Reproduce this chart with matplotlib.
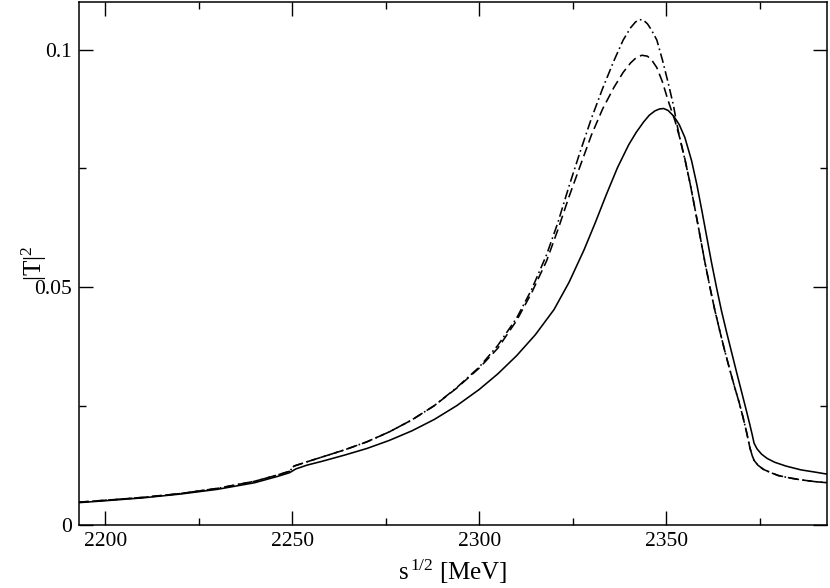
import matplotlib
matplotlib.use("Agg")
import matplotlib.pyplot as plt
from matplotlib.ticker import MultipleLocator

# ---- data ----
solid_x = [2193, 2200, 2210, 2220, 2230, 2240, 2246, 2249.3, 2251, 2254, 2258, 2264, 2270, 2276,
           2282, 2288, 2294, 2300, 2305, 2310, 2315, 2320, 2324, 2328, 2331, 2334, 2337, 2340,
           2342, 2344, 2345.5, 2347, 2348.2, 2349.3, 2350.5, 2352, 2353.5, 2355, 2356.8, 2358.2,
           2359.5, 2360.8, 2362.1, 2363.5, 2364.8, 2366.2, 2367.5, 2368.8, 2370.1, 2371.3,
           2372.4, 2373.0, 2373.5, 2374.3, 2375.5, 2377, 2379, 2382, 2386, 2390, 2393]
solid_y = [0.0047, 0.0051, 0.0057, 0.0065, 0.0075, 0.0089, 0.0102, 0.0110, 0.0118, 0.0126,
           0.0134, 0.0147, 0.0161, 0.0178, 0.0198, 0.0222, 0.0251, 0.0285, 0.0318, 0.0356,
           0.0400, 0.0453, 0.0510, 0.0578, 0.0635, 0.0695, 0.0752, 0.0800, 0.0826, 0.0848,
           0.0862, 0.0871, 0.0875, 0.0876, 0.0872, 0.0860, 0.0842, 0.0815, 0.0766, 0.0716,
           0.0663, 0.0608, 0.0553, 0.0498, 0.0450, 0.0404, 0.0363, 0.0322, 0.0282, 0.0245,
           0.0210, 0.0190, 0.0172, 0.0160, 0.0149, 0.0140, 0.0132, 0.0124, 0.0116, 0.0111,
           0.0107]

dashed_x = [2193, 2200, 2210, 2220, 2230, 2240, 2246, 2249.3, 2250.5, 2254, 2258, 2264, 2270,
            2276, 2282, 2288, 2294, 2300, 2305, 2310, 2314, 2318, 2321, 2324, 2327, 2330, 2333,
            2336, 2338.5, 2340.5, 2342, 2343.5, 2345, 2346.3, 2347.5, 2349, 2350.5, 2352.4,
            2353.7, 2355, 2356.4, 2357.7, 2359, 2360.3, 2361.7, 2363, 2364.4, 2365.7, 2367,
            2368.3, 2369.5, 2370.5, 2371.5, 2372.4, 2373, 2373.5, 2374.5, 2376, 2378, 2380,
            2383, 2386, 2390, 2393]
dashed_y = [0.0048, 0.0052, 0.0058, 0.0066, 0.0077, 0.0092, 0.0105, 0.0113, 0.0124, 0.0133,
            0.0143, 0.0158, 0.0175, 0.0196, 0.0221, 0.0251, 0.0288, 0.0330, 0.0372, 0.0430,
            0.0488, 0.0555, 0.0620, 0.0690, 0.0755, 0.0820, 0.0875, 0.0920, 0.0952, 0.0972,
            0.0983, 0.0988, 0.0986, 0.0976, 0.0962, 0.0932, 0.0893, 0.0849, 0.0812, 0.0770,
            0.0718, 0.0665, 0.0610, 0.0555, 0.0500, 0.0452, 0.0406, 0.0365, 0.0327, 0.0290,
            0.0258, 0.0228, 0.0195, 0.0162, 0.0146, 0.0136, 0.0126, 0.0117, 0.0110, 0.0104,
            0.0099, 0.0095, 0.0091, 0.0089]

dashdot_x = [2193, 2200, 2210, 2220, 2230, 2240, 2246, 2249.3, 2250.5, 2254, 2258, 2264, 2270,
             2276, 2282, 2288, 2294, 2300, 2305, 2310, 2314, 2318, 2321, 2324, 2327, 2330, 2333,
             2336, 2338.5, 2340.5, 2341.8, 2342.8, 2343.9, 2345, 2346, 2347.5, 2349, 2350.5,
             2351.9, 2353.2, 2354.2, 2355.2, 2356.4, 2357.7, 2359, 2360.3, 2361.7, 2363, 2364.4,
             2365.7, 2367, 2368.3, 2369.5, 2370.5, 2371.5, 2372.4, 2373, 2373.5, 2374.5, 2376,
             2378, 2380, 2383, 2386, 2390, 2393]
dashdot_y = [0.0048, 0.0052, 0.0058, 0.0066, 0.0077, 0.0092, 0.0105, 0.0113, 0.0124, 0.0133,
             0.0143, 0.0158, 0.0175, 0.0196, 0.0221, 0.0251, 0.0289, 0.0332, 0.0378, 0.0435,
             0.0495, 0.0568, 0.0635, 0.0712, 0.0785, 0.0855, 0.0918, 0.0976, 0.1020, 0.1046,
             0.1058, 0.1063, 0.1062, 0.1054, 0.1042, 0.1020, 0.0978, 0.0931, 0.0884, 0.0830,
             0.0795, 0.0762, 0.0718, 0.0665, 0.0610, 0.0555, 0.0500, 0.0452, 0.0406, 0.0365,
             0.0327, 0.0290, 0.0258, 0.0228, 0.0195, 0.0162, 0.0146, 0.0136, 0.0126, 0.0117,
             0.0110, 0.0104, 0.0099, 0.0095, 0.0091, 0.0089]

x_major = [2200, 2250, 2300, 2350]
y_major = [0, 0.05, 0.1]
y_labels = ["0", "0.05", "0.1"]

# ---- style ----
plt.rcParams['font.family'] = ['Liberation Serif', 'DejaVu Serif']
plt.rcParams['mathtext.fontset'] = 'custom'
plt.rcParams['mathtext.rm'] = 'Liberation Serif'
plt.rcParams['mathtext.it'] = 'Liberation Serif:italic'
plt.rcParams['lines.scale_dashes'] = False

fig = plt.figure(figsize=(8.30, 5.88), dpi=100)
ax = fig.add_axes([79/830, 1-525/588, (827-79)/830, (525-2)/588])

lw = 1.15
ax.plot(solid_x, solid_y, color='black', lw=lw, solid_joinstyle='round')
ax.plot(dashed_x, dashed_y, color='black', lw=lw, dashes=(7, 3.5))
ax.plot(dashdot_x, dashdot_y, color='black', lw=lw, dashes=(7, 2.5, 1.2, 2.5))

ax.set_xlim(2193, 2393)
ax.set_ylim(0, 0.11)

ax.set_xticks(x_major)
ax.xaxis.set_minor_locator(MultipleLocator(25))
ax.set_yticks(y_major)
ax.set_yticklabels(y_labels)
ax.yaxis.set_minor_locator(MultipleLocator(0.025))

ax.tick_params(which='both', direction='in', top=True, right=True, width=1.0,
               labelsize=15.5, colors='black')
ax.tick_params(which='major', length=10, pad=5)
ax.tick_params(which='minor', length=5)
for sp in ax.spines.values():
    sp.set_linewidth(1.1)

ax.set_xlabel(r'$\mathrm{s}^{\,1/2}$ [MeV]', fontsize=18)
ax.set_ylabel(r'$|\mathrm{T}|^2$', fontsize=18)
ax.xaxis.set_label_coords(0.5, -0.062)
ax.yaxis.set_label_coords(-0.04, 0.5)

fig.savefig('out.png', dpi=100)
